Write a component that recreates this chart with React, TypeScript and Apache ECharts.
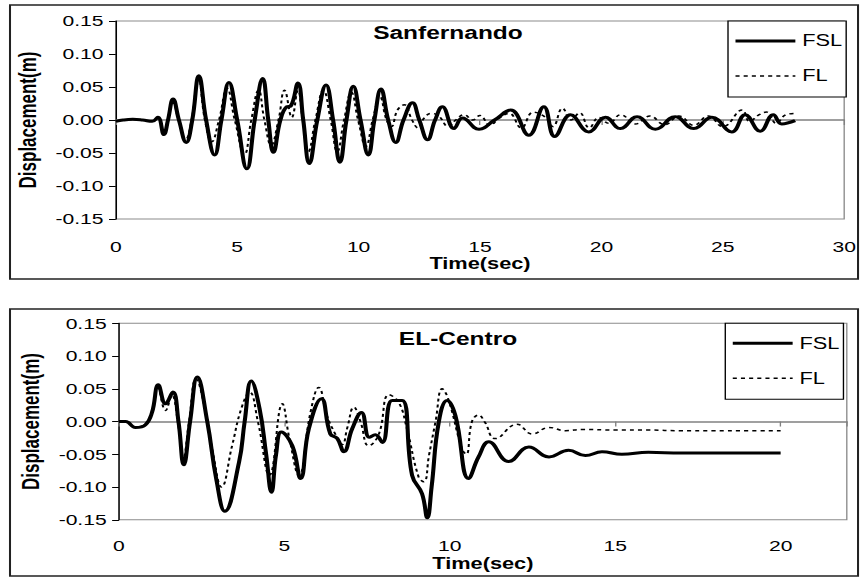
import React, { useEffect, useRef } from "react";
import * as echarts from "echarts";

// Time (s) / displacement (m) pairs for each record
const sanFsl: [number, number][] = [
  [0, -0.002], [0.3, 0.0], [0.7, 0.001], [1.1, 0.0], [1.5, -0.002], [1.73, 0.004],
  [1.98, -0.022], [2.15, 0.0], [2.36, 0.032], [2.6, 0.0], [2.9, -0.034], [3.15, 0.0],
  [3.42, 0.067], [3.72, 0.0], [4.07, -0.053], [4.35, 0.0], [4.66, 0.057], [5.0, 0.0],
  [5.4, -0.074], [5.72, 0.0], [6.05, 0.063], [6.28, 0.0], [6.49, -0.049], [6.78, 0.0],
  [7.04, 0.02], [7.2, 0.021], [7.5, 0.056], [7.72, 0.0], [7.97, -0.066], [8.3, 0.0],
  [8.66, 0.053], [8.95, 0.0], [9.23, -0.064], [9.5, 0.0], [9.78, 0.051], [10.08, 0.0],
  [10.4, -0.053], [10.65, 0.0], [10.92, 0.047], [11.22, 0.0], [11.53, -0.034], [11.85, 0.0],
  [12.22, 0.026], [12.5, 0.0], [12.84, -0.03], [13.15, 0.0], [13.45, 0.02], [13.93, -0.013],
  [14.28, 0.003], [14.96, -0.014], [15.6, 0.0], [16.26, 0.015], [17.01, -0.023], [17.63, 0.02],
  [18.08, -0.025], [18.73, 0.008], [19.48, -0.018], [20.17, 0.004], [20.78, -0.013], [21.47, 0.005],
  [22.22, -0.014], [23.04, 0.005], [23.8, -0.013], [24.55, 0.004], [25.37, -0.018], [25.92, 0.008],
  [26.54, -0.017], [27.08, 0.008], [27.43, -0.006], [27.98, -0.001],
];

const sanFl: [number, number][] = [
  [0, -0.002], [0.3, 0.0], [0.7, 0.001], [1.1, 0.0], [1.5, -0.002], [1.72, 0.003],
  [1.97, -0.02], [2.14, 0.0], [2.34, 0.03], [2.58, 0.0], [2.87, -0.03], [3.12, 0.0],
  [3.4, 0.064], [3.67, 0.0], [3.95, -0.033], [4.25, 0.0], [4.58, 0.048], [4.9, 0.0],
  [5.3, -0.052], [5.58, 0.0], [5.88, 0.045], [6.12, 0.0], [6.4, -0.038], [6.7, 0.0],
  [6.95, 0.045], [7.25, 0.004], [7.5, 0.045], [7.7, 0.0], [7.93, -0.048], [8.22, 0.0],
  [8.55, 0.045], [8.85, 0.0], [9.12, -0.048], [9.4, 0.0], [9.7, 0.042], [9.98, 0.0],
  [10.3, -0.04], [10.58, 0.0], [10.88, 0.035], [11.15, 0.0], [11.35, -0.01], [11.6, 0.015],
  [11.88, 0.023], [12.2, 0.0], [12.45, -0.012], [12.7, 0.003], [13.0, 0.01], [13.3, 0.006],
  [13.7, -0.01], [14.0, 0.0], [14.35, 0.008], [14.7, 0.0], [15.0, 0.007], [15.4, -0.008],
  [15.8, 0.003], [16.2, 0.01], [16.7, -0.012], [17.2, 0.012], [17.7, 0.004], [18.0, -0.01],
  [18.4, 0.018], [18.75, 0.0], [19.1, 0.011], [19.5, -0.012], [19.9, 0.004], [20.3, -0.005],
  [20.8, 0.008], [21.4, -0.006], [22.0, 0.006], [22.6, -0.007], [23.2, 0.006], [23.8, -0.008],
  [24.4, 0.006], [25.0, -0.01], [25.8, 0.015], [26.1, -0.002], [26.5, 0.008], [26.8, 0.012],
  [27.2, -0.005], [27.6, 0.008], [28.0, 0.01],
];

const elcFsl: [number, number][] = [
  [0, 0], [0.2, 0], [0.5, -0.009], [0.8, -0.005], [1.0, 0.014], [1.19, 0.056],
  [1.41, 0.027], [1.63, 0.045], [1.8, 0.0], [1.96, -0.066], [2.15, 0.0], [2.37, 0.068],
  [2.67, 0.0], [2.95, -0.09], [3.2, -0.137], [3.63, -0.062], [3.8, 0.0], [4.0, 0.062],
  [4.25, 0.02], [4.45, -0.05], [4.61, -0.108], [4.75, -0.05], [4.91, -0.016], [5.24, -0.037],
  [5.49, -0.087], [5.74, -0.011], [6.12, 0.035], [6.39, -0.019], [6.6, -0.026], [6.8, -0.046],
  [7.05, -0.011], [7.33, 0.014], [7.57, -0.024], [7.75, -0.02], [7.96, -0.032], [8.26, 0.032],
  [8.56, 0.032], [8.86, -0.082], [9.16, -0.11], [9.32, -0.147], [9.45, -0.1], [9.67, 0],
  [9.92, 0.032], [10.17, 0.009], [10.57, -0.087], [10.87, -0.054], [11.18, -0.031], [11.78, -0.061],
  [12.39, -0.039], [13.0, -0.054], [13.59, -0.044], [14.1, -0.052], [14.6, -0.046], [15.2, -0.05],
  [16.0, -0.047], [17.0, -0.048], [18.0, -0.048], [19.0, -0.048], [20.0, -0.048],
];

const elcFl: [number, number][] = [
  [0, 0], [0.2, 0], [0.5, -0.008], [0.8, -0.004], [1.0, 0.014], [1.17, 0.052],
  [1.41, 0.017], [1.6, 0.04], [1.78, 0.0], [1.94, -0.057], [2.12, 0.0], [2.33, 0.065],
  [2.6, 0.02], [2.85, -0.05], [3.1, -0.1], [3.42, -0.037], [3.7, 0.02], [3.95, 0.045],
  [4.2, 0.0], [4.55, -0.082], [4.94, 0.027], [5.15, -0.025], [5.44, -0.082], [5.79, 0.014],
  [6.04, 0.052], [6.29, 0.009], [6.55, -0.02], [6.75, -0.035], [6.9, -0.01], [7.1, 0.022],
  [7.3, 0.0], [7.55, -0.037], [7.85, -0.02], [8.16, 0.041], [8.45, 0.03], [8.7, -0.01],
  [9.06, -0.085], [9.22, -0.092], [9.37, -0.052], [9.57, 0], [9.77, 0.05], [9.95, 0.035],
  [10.37, -0.042], [10.5, -0.05], [10.67, 0], [10.87, 0.01], [11.05, 0.0], [11.38, -0.026],
  [12.03, -0.004], [12.49, -0.019], [13.0, -0.009], [13.5, -0.014], [14.0, -0.012], [15.0, -0.013],
  [16.0, -0.013], [17.0, -0.014], [18.0, -0.014], [19.0, -0.014], [20.0, -0.014],
];

const seriesNames = ["FSL", "FL"];
const chartTitles = ["Sanfernando", "EL-Centro"];
const xMaxima = [30, 22];
const xTickStep = 5;
const yMin = -0.15;
const yMax = 0.15;
const yStep = 0.05;

const FONT = "'Liberation Sans', Arial, Helvetica, sans-serif";
const BASE_W = 632;
const BASE_H = 578;
const STRETCH = 860 / BASE_W;

const grids = [
  { left: 85.1, right: BASE_W - 621.7, top: 21, height: 198 },
  { left: 87.4, right: BASE_W - 622.3, top: 323.3, height: 196.5 },
];

function buildOption() {
  const xAxes: any[] = [];
  const yAxes: any[] = [];
  const labelMargins = [20, 18];
  const nameGaps = [37, 36];

  grids.forEach((_, g) => {
    // labelled axis along the bottom of the plot
    xAxes.push({
      gridIndex: g,
      type: "value",
      min: 0,
      max: xMaxima[g],
      interval: xTickStep,
      position: "bottom",
      axisLine: { show: false, onZero: false },
      axisTick: { show: false },
      splitLine: { show: false },
      axisLabel: {
        margin: labelMargins[g],
        fontSize: 15.5,
        color: "#000",
        fontFamily: FONT,
        formatter: (v: number) => (v % xTickStep === 0 ? String(v) : ""),
      },
      name: "Time(sec)",
      nameLocation: "middle",
      nameGap: nameGaps[g],
      nameTextStyle: { fontSize: 16, fontWeight: "bold", color: "#000", fontFamily: FONT },
    });
    // zero line with its tick marks
    xAxes.push({
      gridIndex: g,
      type: "value",
      min: 0,
      max: xMaxima[g],
      interval: xTickStep,
      position: "top",
      axisLine: { show: true, onZero: true, lineStyle: { color: "#808080", width: 1.5 } },
      axisTick: { show: true, inside: true, length: 5, lineStyle: { color: "#808080", width: 1 } },
      axisLabel: { show: false },
      splitLine: { show: false },
    });
    yAxes.push({
      gridIndex: g,
      type: "value",
      min: yMin,
      max: yMax,
      interval: yStep,
      axisLine: { show: true, onZero: false, lineStyle: { color: "#000", width: 1 } },
      axisTick: { show: true, length: 5, lineStyle: { color: "#000", width: 1 } },
      splitLine: { show: false },
      axisLabel: {
        margin: 9,
        fontSize: 15.5,
        color: "#000",
        fontFamily: FONT,
        formatter: (v: number) => (Math.abs(v) < 1e-9 ? "0.00" : v.toFixed(2)),
      },
      name: "Displacement(m)",
      nameLocation: "middle",
      nameGap: 56,
      nameTextStyle: { fontSize: 17, fontWeight: "bold", color: "#000", fontFamily: FONT },
    });
  });

  const records = [
    [sanFsl, sanFl],
    [elcFsl, elcFl],
  ];
  const series: any[] = [];
  records.forEach((pair, g) => {
    pair.forEach((data, k) => {
      series.push({
        name: seriesNames[k],
        type: "line",
        xAxisIndex: g * 2,
        yAxisIndex: g,
        data,
        smooth: 0.45,
        symbol: "none",
        color: "#000",
        lineStyle:
          k === 0
            ? { color: "#000", width: 3 }
            : { color: "#000", width: 1.5, type: [3, 3] },
        z: k === 0 ? 3 : 4,
      });
    });
  });

  const legendTops = [21, 323.3];
  const legendLefts = [535, 533];
  const legends = legendTops.map((top, g) => ({
    orient: "vertical",
    left: legendLefts[g],
    top,
    padding: [12, 3, 13, 4],
    itemWidth: 44,
    itemHeight: 14,
    itemGap: 19,
    borderColor: "#000",
    borderWidth: 1,
    backgroundColor: "#fff",
    itemStyle: { opacity: 0 },
    lineStyle: { width: "inherit" },
    textStyle: { fontSize: 16, color: "#000", fontFamily: FONT },
    data: seriesNames,
    selectedMode: false,
  }));

  const titleCenters = [
    [329.2, 33],
    [336.6, 339],
  ];
  const frames = [
    [7.35, 5, 623.2, 274],
    [7.35, 309, 623.2, 267],
  ];

  const graphic: any[] = [];
  frames.forEach(([x, y, w, h]) => {
    graphic.push({
      type: "rect",
      silent: true,
      shape: { x, y, width: w, height: h },
      style: { fill: "none", stroke: "#222", lineWidth: 1.5 },
    });
  });
  titleCenters.forEach(([x, y], g) => {
    graphic.push({
      type: "text",
      silent: true,
      x,
      y,
      style: {
        text: chartTitles[g],
        fill: "#000",
        fontSize: 18,
        fontWeight: "bold",
        fontFamily: FONT,
        align: "center",
        verticalAlign: "middle",
      },
    });
  });

  return {
    animation: false,
    backgroundColor: "#fff",
    grid: grids.map((gr) => ({
      ...gr,
      show: true,
      borderColor: "#8c8c8c",
      borderWidth: 1,
      backgroundColor: "transparent",
    })),
    xAxis: xAxes,
    yAxis: yAxes,
    legend: legends,
    series,
    graphic,
  };
}

export default function App() {
  const ref = useRef<HTMLDivElement>(null);

  useEffect(() => {
    if (!ref.current) return;
    const chart = echarts.init(ref.current, null, { renderer: "svg" });
    chart.setOption(buildOption() as any);
    return () => chart.dispose();
  }, []);

  return (
    <div
      ref={ref}
      style={{
        position: "absolute",
        left: 0,
        top: 0,
        width: BASE_W,
        height: BASE_H,
        transform: `scaleX(${STRETCH})`,
        transformOrigin: "0 0",
        background: "#fff",
      }}
    />
  );
}
